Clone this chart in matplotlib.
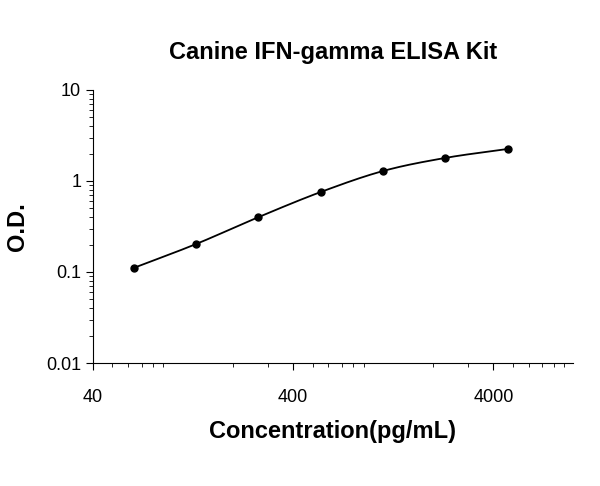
import numpy as np
import matplotlib
matplotlib.use("Agg")
import matplotlib.pyplot as plt
from matplotlib.ticker import FixedLocator, NullFormatter, LogLocator

plt.rcParams['font.family'] = ['Liberation Sans', 'DejaVu Sans']

conc = [64, 131, 268, 550, 1130, 2300, 4750]
od = [0.111, 0.203, 0.40, 0.757, 1.29, 1.79, 2.25]

fig = plt.figure(figsize=(6, 4.86), dpi=100)
ax = fig.add_axes([0.155, 0.253, 0.8, 0.562])
lx, ly = np.log10(conc), np.log10(od)
t = np.linspace(lx[0], lx[-1], 300)
d = np.diff(ly) / np.diff(lx)
m = np.concatenate([[d[0]], (d[:-1] + d[1:]) / 2, [d[-1]]])
yy = np.empty_like(t)
for i, x in enumerate(t):
    k = min(np.searchsorted(lx, x, side='right') - 1, len(lx) - 2)
    h = lx[k+1] - lx[k]; s = (x - lx[k]) / h
    h00 = 2*s**3 - 3*s**2 + 1; h10 = s**3 - 2*s**2 + s
    h01 = -2*s**3 + 3*s**2; h11 = s**3 - s**2
    yy[i] = h00*ly[k] + h10*h*m[k] + h01*ly[k+1] + h11*h*m[k+1]
ax.plot(10**t, 10**yy, color='black', lw=1.3)
ax.plot(conc, od, 'o', color='black', ms=5)
ax.set_xscale('log'); ax.set_yscale('log')
ax.set_xlim(40, 10000); ax.set_ylim(0.01, 10)
ax.xaxis.set_major_locator(FixedLocator([40, 400, 4000]))
ax.set_xticklabels(['40', '400', '4000'])
ax.xaxis.set_minor_locator(LogLocator(base=10, subs=np.arange(2, 10)))
ax.xaxis.set_minor_formatter(NullFormatter())
ax.yaxis.set_major_locator(FixedLocator([0.01, 0.1, 1, 10]))
ax.set_yticklabels(['0.01', '0.1', '1', '10'])
ax.yaxis.set_minor_locator(LogLocator(base=10, subs=np.arange(2, 10)))
ax.yaxis.set_minor_formatter(NullFormatter())
for s in ['top', 'right']:
    ax.spines[s].set_visible(False)
ax.tick_params(which='both', direction='out', labelsize=13)
ax.tick_params(which='major', length=5)
ax.tick_params(which='minor', length=3)
ax.tick_params(axis='x', pad=14)
ax.set_title('Canine IFN-gamma ELISA Kit', fontsize=17, fontweight='bold', pad=22)
ax.set_xlabel('Concentration(pg/mL)', fontsize=17, fontweight='bold', labelpad=10)
ax.set_ylabel('O.D.', fontsize=17, fontweight='bold', labelpad=12)
fig.savefig('out.png', dpi=100)
